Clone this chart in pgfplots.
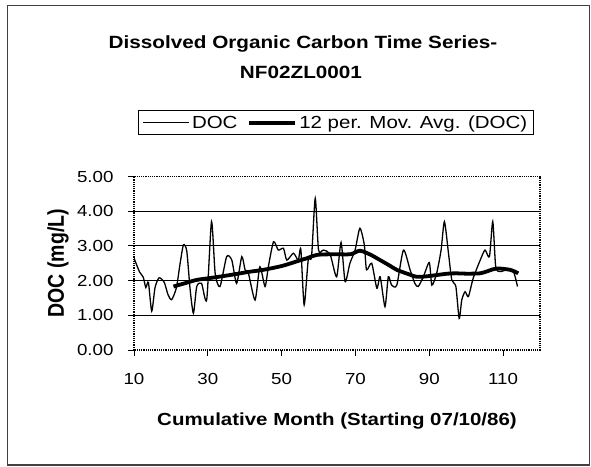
\documentclass[border=0pt]{standalone}
\usepackage{pgfplots}
\pgfplotsset{compat=1.18}
\usepackage{graphicx}
\usepackage{fontspec}
\setmainfont{Liberation Sans}
\newcommand\sx[1]{\scalebox{1.17}[1]{#1}}
\newcommand\sy[1]{\scalebox{1}[1.17]{#1}}

\begin{document}
\begin{tikzpicture}
\path (0pt,0pt) rectangle (591pt,-466pt);
\draw[black!75, line width=1.3pt] (7.5pt,-5.5pt) rectangle (589.5pt,-465pt);
\node[font=\fontsize{17.7}{21}\bfseries\selectfont, inner sep=0pt] at (303pt,-44pt) {\sx{Dissolved Organic Carbon Time Series-}};
\node[font=\fontsize{17.7}{21}\bfseries\selectfont, inner sep=0pt] at (301pt,-72pt) {\sx{NF02ZL0001}};
\begin{axis}[
  at={(134pt,-350pt)}, anchor=south west,
  scale only axis, width=406pt, height=173.5pt,
  xmin=10, xmax=120, ymin=0, ymax=5,
  xtick={10,30,50,70,90,110},
  xticklabels={\sx{10},\sx{30},\sx{50},\sx{70},\sx{90},\sx{110}},
  ytick={0,1,2,3,4,5},
  yticklabels={\sx{0.00},\sx{1.00},\sx{2.00},\sx{3.00},\sx{4.00},\sx{5.00}},
  extra y ticks={1,2,3,4},
  extra y tick labels={},
  extra y tick style={grid=major, major tick length=0pt},
  grid style={black, solid, line width=0.9pt},
  tick align=outside, major tick length=6pt,
  xtick pos=bottom, ytick pos=left,
  axis line style={black, densely dotted, line width=1.2pt},
  tick style={black, solid, line width=0.9pt},
  ticklabel style={font=\fontsize{16}{19}\selectfont},
  xticklabel style={yshift=-14pt},
  yticklabel style={xshift=-11pt},
  xlabel={\sx{Cumulative Month (Starting 07/10/86)}},
  ylabel={\sy{DOC (mg/L)}},
  xlabel style={font=\fontsize{17.5}{21}\bfseries\selectfont, at={(rel axis cs:0.5,-0.41)}, anchor=center},
  ylabel style={font=\fontsize{19.5}{23}\bfseries\selectfont, at={(rel axis cs:-0.187,0.5)}, anchor=center, rotate=0},
  legend columns=2,
  legend style={at={(rel axis cs:0.4975,1.31)}, anchor=center, draw=black, line width=1pt,
    font=\fontsize{17.5}{21}\selectfont, inner xsep=4pt, inner ysep=3pt,
    /tikz/every even column/.append style={column sep=8pt}},
  legend image code/.code={\draw[#1] (0pt,0pt) -- (46pt,0pt);},
]
\addplot[black, line width=1.3pt, smooth, tension=0.4] coordinates {
(10,2.65) (11.5,2.25) (12.5,2.1) (13.2,1.8) (13.9,1.95) (14.8,1.12) (15.7,1.8) (16.8,2.08) (18.2,1.95) (19.2,1.6) (20.2,1.45) (21.5,1.8) (22.5,2.5) (23.4,3.03) (24.3,2.85) (25.2,1.75) (26.1,1.06) (27,1.83) (28.3,1.92) (29.7,1.45) (31,3.7) (32,2.2) (33.3,1.83) (35.1,2.69) (36.5,2.59) (37.8,1.92) (39.2,2.69) (40.1,2.31) (41,2.21) (42.8,1.44) (44.1,2.40) (45.5,1.83) (46.4,2.40) (47.8,3.12) (49.1,2.88) (50.5,2.93) (51.4,2.59) (53.2,2.79) (54.5,2.59) (55.2,2.9) (56.1,1.3) (57.2,2.59) (58.1,2.69) (59.1,4.37) (60,2.88) (61.3,2.88) (63.1,2.77) (64.9,2.11) (66.1,3.1) (67.2,1.97) (68.5,2.5) (69.9,2.88) (71.2,3.51) (72.4,3.03) (73,2.31) (74.4,2.5) (75.8,1.78) (76.7,2.11) (78,1.25) (78.9,2.11) (79.8,1.87) (81.2,1.87) (83,2.88) (84.8,2.31) (86.1,1.92) (87,1.83) (88.4,2.11) (90,2.52) (90.7,1.87) (92,2.21) (93.2,2.88) (94.1,3.7) (95.2,2.79) (96.1,2.02) (97.2,1.83) (98.1,0.91) (98.8,1.44) (99.7,1.68) (100.6,1.54) (101.9,2.07) (103.8,2.59) (105.1,2.88) (106.3,2.69) (107.2,3.7) (108,2.4) (109.2,2.26) (111,2.31) (112.8,2.26) (113.9,1.83)
};
\addlegendentry{\sx{DOC}}
\addplot[black, line width=3.8pt, smooth, tension=0.5] coordinates {
(20.7,1.83) (24,1.93) (27,2.02) (31,2.08) (36,2.16) (41,2.25) (45,2.31) (50,2.42) (54,2.55) (57,2.65) (59.5,2.74) (64,2.76) (68.6,2.76) (71.2,2.86) (74,2.75) (76.7,2.59) (79,2.45) (81.2,2.31) (84,2.2) (86.6,2.11) (89,2.12) (92,2.16) (95,2.2) (97.4,2.21) (100,2.2) (103.8,2.21) (106,2.28) (108.3,2.35) (111.9,2.31) (114.1,2.21)
};
\addlegendentry{\sx{12 per. Mov. Avg. (DOC)}}
\end{axis}
\end{tikzpicture}
\end{document}
